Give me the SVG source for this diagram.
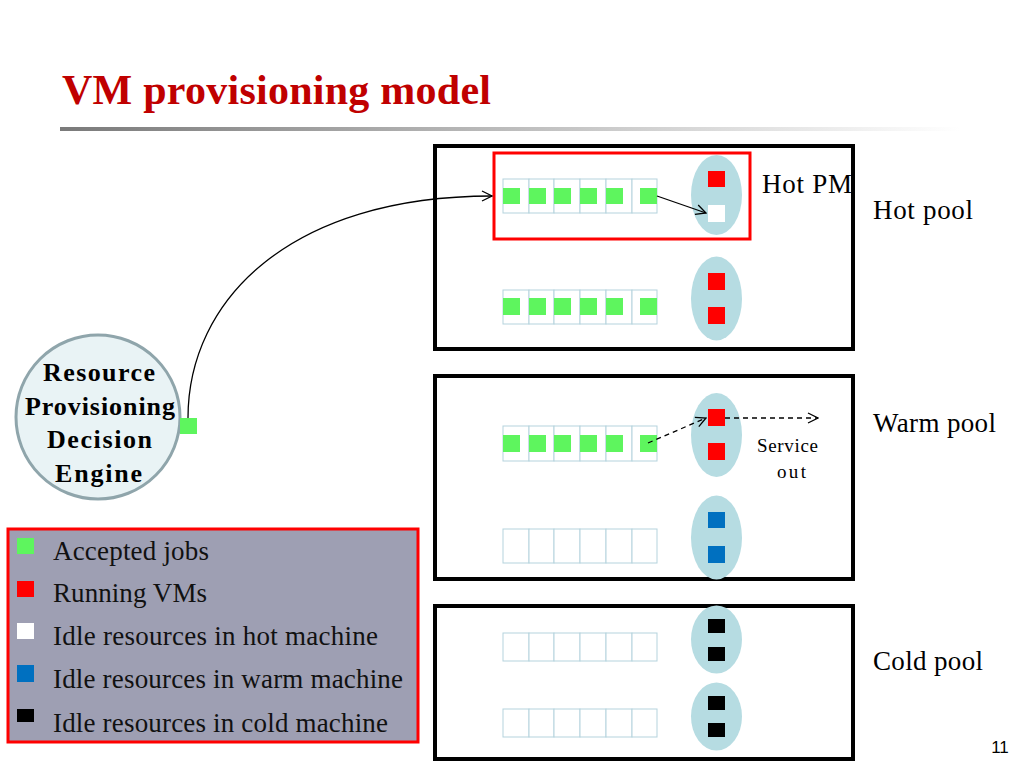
<svg xmlns="http://www.w3.org/2000/svg" width="1024" height="768" viewBox="0 0 1024 768">
<defs>
<linearGradient id="rule" x1="0" y1="0" x2="1" y2="0">
<stop offset="0" stop-color="#7a7a7a"/>
<stop offset="1" stop-color="#ffffff"/>
</linearGradient>
<marker id="arr" viewBox="0 0 12 12" refX="11" refY="6" markerWidth="12" markerHeight="12" markerUnits="userSpaceOnUse" orient="auto">
<path d="M1,1 L11,6 L1,11" fill="none" stroke="#000" stroke-width="1.3"/>
</marker>
</defs>
<style>
.serif{font-family:"Liberation Serif","Times New Roman",serif}
.pool{fill:#fff;stroke:#000;stroke-width:4}
.cell{fill:#fff;stroke:#b5d3dd;stroke-width:1}
.pm{fill:#b6dce2}
.g{fill:#5ef55e}
.r{fill:#ff0000}
.w{fill:#ffffff}
.b{fill:#0070c0}
.k{fill:#000}
.lbl{font-size:27px;fill:#000}
.leg{font-size:27px;fill:#111}
.conn{fill:none;stroke:#000;stroke-width:1.3}
.dash{stroke-dasharray:5,4}
</style>
<rect width="1024" height="768" fill="#fff"/>
<text class="serif" x="62" y="104" font-size="42" font-weight="bold" fill="#c00000" textLength="429" lengthAdjust="spacing">VM provisioning model</text>
<rect x="60" y="127" width="900" height="4" fill="url(#rule)"/>

<g id="hot-pool">
<rect class="pool" x="435" y="146" width="418" height="203"/>
<text class="serif lbl" x="873" y="219" textLength="100" lengthAdjust="spacing">Hot pool</text>
</g>
<g id="hot-pm">
<rect x="494" y="153" width="256" height="86" fill="none" stroke="#ff0000" stroke-width="3"/>
<text class="serif" x="762" y="193" font-size="27" textLength="90" lengthAdjust="spacing">Hot PM</text>
</g>
<g id="hot-row1">
<rect class="cell" x="503" y="179" width="26" height="34"/><rect class="cell" x="529" y="179" width="25" height="34"/><rect class="cell" x="554" y="179" width="26" height="34"/><rect class="cell" x="580" y="179" width="26" height="34"/><rect class="cell" x="606" y="179" width="26" height="34"/><rect class="cell" x="632" y="179" width="25" height="34"/>
<rect class="g" x="503" y="188" width="17" height="16"/><rect class="g" x="529" y="188" width="17" height="16"/><rect class="g" x="554" y="188" width="17" height="16"/><rect class="g" x="580" y="188" width="17" height="16"/><rect class="g" x="606" y="188" width="17" height="16"/><rect class="g" x="640" y="188" width="17" height="16"/>
<ellipse class="pm" cx="716.5" cy="195" rx="25.5" ry="40"/>
<rect class="r" x="708" y="171" width="17" height="16"/>
<rect class="w" x="708" y="205" width="17" height="17"/>
</g>
<g id="hot-row2">
<rect class="cell" x="503" y="290" width="26" height="34"/><rect class="cell" x="529" y="290" width="25" height="34"/><rect class="cell" x="554" y="290" width="26" height="34"/><rect class="cell" x="580" y="290" width="26" height="34"/><rect class="cell" x="606" y="290" width="26" height="34"/><rect class="cell" x="632" y="290" width="25" height="34"/>
<rect class="g" x="503" y="298" width="17" height="17"/><rect class="g" x="529" y="298" width="17" height="17"/><rect class="g" x="554" y="298" width="17" height="17"/><rect class="g" x="580" y="298" width="17" height="17"/><rect class="g" x="606" y="298" width="17" height="17"/><rect class="g" x="640" y="298" width="17" height="17"/>
<ellipse class="pm" cx="716.5" cy="298.5" rx="25.5" ry="42"/>
<rect class="r" x="708" y="273" width="17" height="17"/>
<rect class="r" x="708" y="307" width="17" height="17"/>
</g>

<g id="warm-pool">
<rect class="pool" x="435" y="376" width="418" height="203"/>
<text class="serif lbl" x="873" y="432" textLength="123" lengthAdjust="spacing">Warm pool</text>
<text class="serif" x="757" y="452" font-size="19" textLength="61" lengthAdjust="spacing">Service</text>
<text class="serif" x="777" y="478" font-size="19" textLength="29" lengthAdjust="spacing">out</text>
</g>
<g id="warm-row1">
<rect class="cell" x="503" y="426" width="26" height="35"/><rect class="cell" x="529" y="426" width="25" height="35"/><rect class="cell" x="554" y="426" width="26" height="35"/><rect class="cell" x="580" y="426" width="26" height="35"/><rect class="cell" x="606" y="426" width="26" height="35"/><rect class="cell" x="632" y="426" width="25" height="35"/>
<rect class="g" x="503" y="435" width="17" height="17"/><rect class="g" x="529" y="435" width="17" height="17"/><rect class="g" x="554" y="435" width="17" height="17"/><rect class="g" x="580" y="435" width="17" height="17"/><rect class="g" x="606" y="435" width="17" height="17"/><rect class="g" x="640" y="435" width="17" height="17"/>
<ellipse class="pm" cx="716.5" cy="435" rx="25.5" ry="42"/>
<rect class="r" x="708" y="409" width="17" height="17"/>
<rect class="r" x="708" y="443" width="17" height="17"/>
</g>
<g id="warm-row2">
<rect class="cell" x="503" y="529" width="26" height="34"/><rect class="cell" x="529" y="529" width="25" height="34"/><rect class="cell" x="554" y="529" width="26" height="34"/><rect class="cell" x="580" y="529" width="26" height="34"/><rect class="cell" x="606" y="529" width="26" height="34"/><rect class="cell" x="632" y="529" width="25" height="34"/>
<ellipse class="pm" cx="716.5" cy="537.5" rx="25.5" ry="42"/>
<rect class="b" x="708" y="512" width="17" height="16"/>
<rect class="b" x="708" y="546" width="17" height="17"/>
</g>

<g id="cold-pool">
<rect class="pool" x="435" y="606" width="418" height="153"/>
<text class="serif lbl" x="873" y="670" textLength="110" lengthAdjust="spacing">Cold pool</text>
</g>
<g id="cold-row1">
<rect class="cell" x="503" y="633" width="26" height="28"/><rect class="cell" x="529" y="633" width="25" height="28"/><rect class="cell" x="554" y="633" width="26" height="28"/><rect class="cell" x="580" y="633" width="26" height="28"/><rect class="cell" x="606" y="633" width="26" height="28"/><rect class="cell" x="632" y="633" width="25" height="28"/>
<ellipse class="pm" cx="716.5" cy="639.5" rx="25.5" ry="34"/>
<rect class="k" x="708" y="619" width="17" height="14"/>
<rect class="k" x="708" y="647" width="17" height="14"/>
</g>
<g id="cold-row2">
<rect class="cell" x="503" y="709" width="26" height="28"/><rect class="cell" x="529" y="709" width="25" height="28"/><rect class="cell" x="554" y="709" width="26" height="28"/><rect class="cell" x="580" y="709" width="26" height="28"/><rect class="cell" x="606" y="709" width="26" height="28"/><rect class="cell" x="632" y="709" width="25" height="28"/>
<ellipse class="pm" cx="716.5" cy="716.5" rx="25.5" ry="34"/>
<rect class="k" x="708" y="696" width="17" height="14"/>
<rect class="k" x="708" y="723" width="17" height="14"/>
</g>

<g id="engine">
<circle cx="98" cy="417" r="82" fill="#e9f3f5" stroke="#8fa5ab" stroke-width="3"/>
<g class="serif" font-size="26" font-weight="bold" fill="#000">
<text x="43" y="381" textLength="112" lengthAdjust="spacing">Resource</text>
<text x="25" y="415" textLength="150" lengthAdjust="spacing">Provisioning</text>
<text x="47" y="448" textLength="105" lengthAdjust="spacing">Decision</text>
<text x="55" y="482" textLength="87" lengthAdjust="spacing">Engine</text>
</g>
<rect class="g" x="180" y="418" width="17" height="16"/>
</g>

<g id="connectors">
<path class="conn" d="M188,418 C188,300 290,196 492,196" marker-end="url(#arr)"/>
<path class="conn" d="M657,196 L706,213" marker-end="url(#arr)"/>
<path class="conn dash" d="M648,443 L706,418" marker-end="url(#arr)"/>
<path class="conn dash" d="M725,418 L818,418" marker-end="url(#arr)"/>
</g>

<g id="legend">
<rect x="8" y="529" width="410" height="213" fill="#9e9fb3" stroke="#ff0000" stroke-width="3"/>
<rect class="g" x="17" y="538" width="17" height="16"/>
<rect class="r" x="17" y="581" width="17" height="16"/>
<rect class="w" x="17" y="623" width="17" height="16"/>
<rect class="b" x="17" y="665" width="17" height="17"/>
<rect class="k" x="17" y="709" width="17" height="13"/>
<text class="serif leg" x="53" y="560" textLength="156" lengthAdjust="spacing">Accepted jobs</text>
<text class="serif leg" x="53" y="602" textLength="154" lengthAdjust="spacing">Running VMs</text>
<text class="serif leg" x="53" y="645" textLength="325" lengthAdjust="spacing">Idle resources in hot machine</text>
<text class="serif leg" x="53" y="688" textLength="350" lengthAdjust="spacing">Idle resources in warm machine</text>
<text class="serif leg" x="53" y="732" textLength="335" lengthAdjust="spacing">Idle resources in cold machine</text>
</g>
<text x="1000" y="753" font-family="Liberation Sans,Arial,sans-serif" font-size="17" text-anchor="middle" fill="#000">11</text>
</svg>
